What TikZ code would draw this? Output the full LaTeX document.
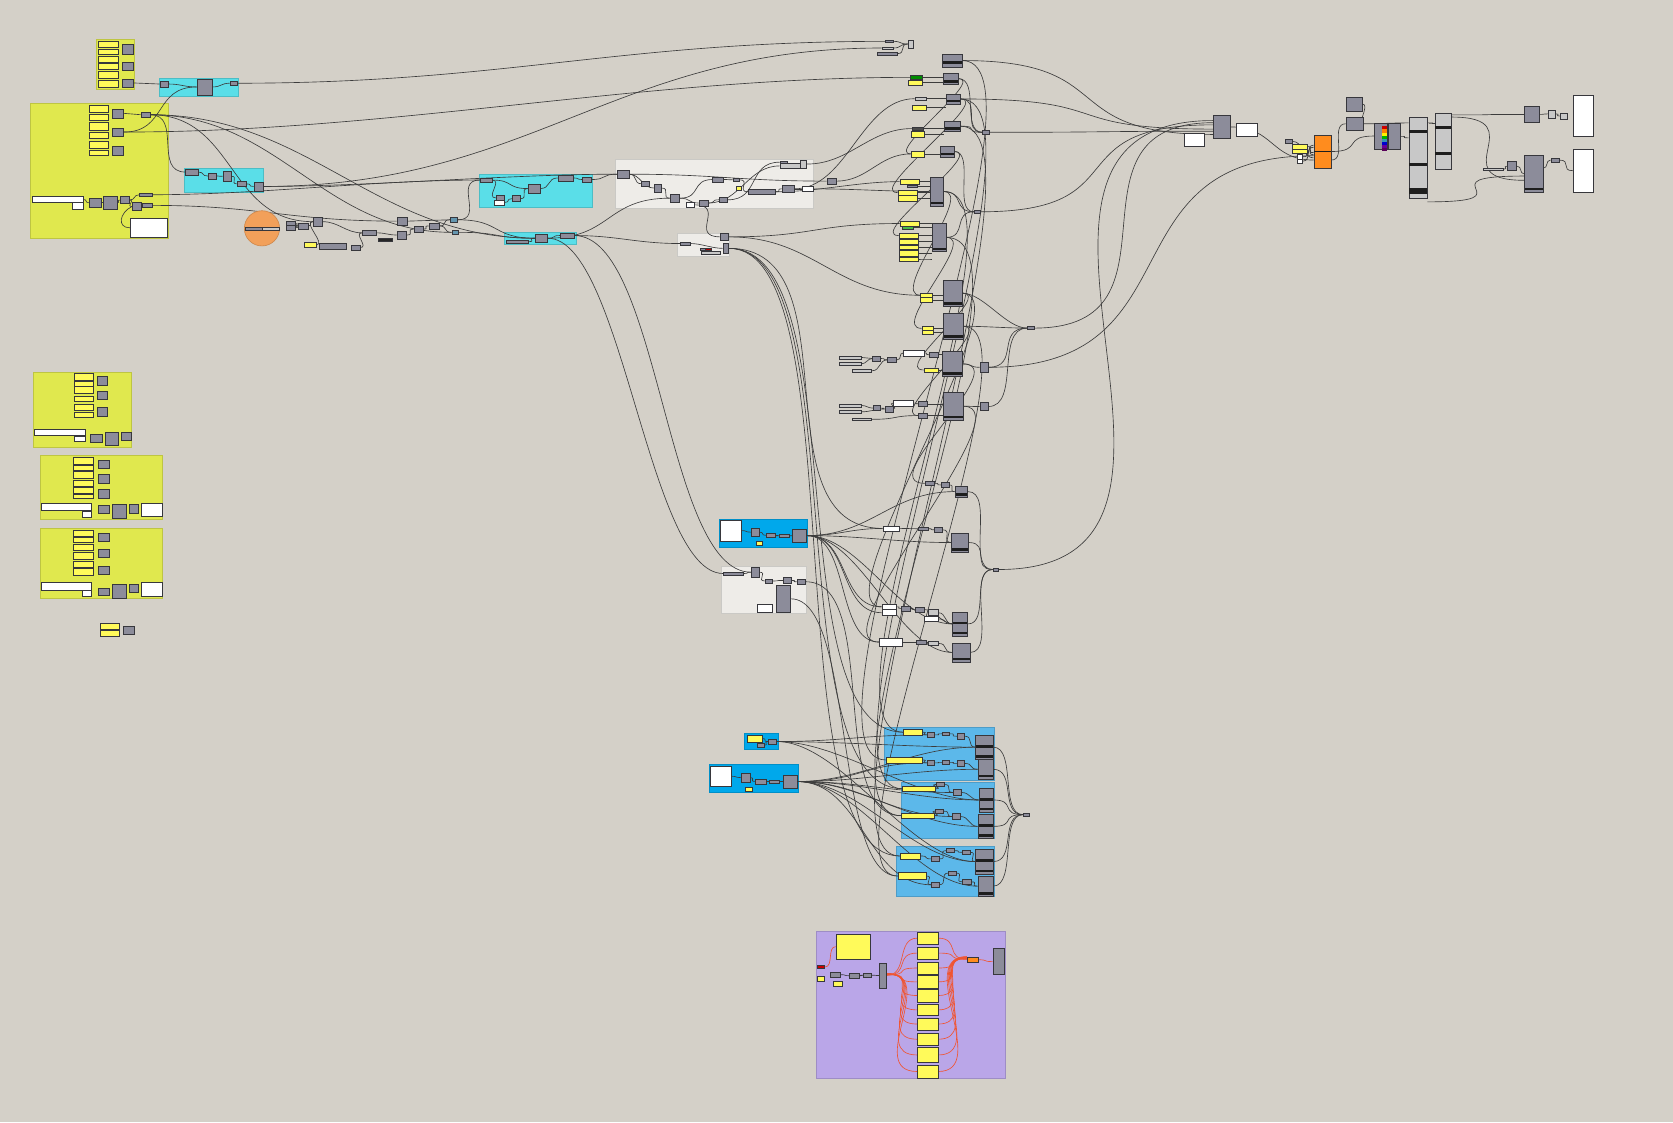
\documentclass[tikz,border=0pt]{standalone}
\usetikzlibrary{positioning}
\pgfdeclarelayer{grp}
\pgfdeclarelayer{wires}
\pgfsetlayers{grp,wires,main}
\definecolor{canvas}{RGB}{212,208,200}
\definecolor{cgrey}{RGB}{140,140,154}
\definecolor{cbord}{RGB}{55,55,60}
\definecolor{pyel}{RGB}{255,250,90}
\definecolor{gyel}{RGB}{224,232,78}
\definecolor{gcyan}{RGB}{90,222,232}
\definecolor{gwhite}{RGB}{238,236,232}
\definecolor{gblue}{RGB}{0,168,235}
\definecolor{glblue}{RGB}{92,184,234}
\definecolor{gpurp}{RGB}{186,166,232}
\definecolor{orb}{RGB}{242,160,90}
\definecolor{ocomp}{RGB}{255,140,30}
\definecolor{wcol}{RGB}{60,60,60}
\definecolor{rcol}{RGB}{240,85,50}
\definecolor{lgrey}{RGB}{200,200,200}
\definecolor{cband}{RGB}{30,30,30}
\definecolor{bgrey}{RGB}{100,150,175}
\tikzset{
	x=1pt,
	y=-1pt,
	sz/.style 2 args={minimum width=#1pt,minimum height=#2pt},
	comp/.style={rectangle,draw=cbord,fill=cgrey,line width=0.6pt,inner sep=0pt},
	panel/.style={comp,fill=pyel},
	wpanel/.style={comp,fill=white},
	lcomp/.style={comp,fill=lgrey},
	bcomp/.style={comp,fill=bgrey},
	banded/.style={path picture={\fill[cband] ([yshift=1.5pt]path picture bounding box.south west) rectangle ([yshift=4pt]path picture bounding box.south east);}},
	banded2/.style={path picture={\fill[cband] ([yshift=1.5pt]path picture bounding box.south west) rectangle ([yshift=4pt]path picture bounding box.south east);
		\fill[cband] ([yshift=-0.5pt]path picture bounding box.west) rectangle ([yshift=2pt]path picture bounding box.east);}},
	bandmid/.style={path picture={\fill[cband] ([yshift=-0.5pt]path picture bounding box.west) rectangle ([yshift=-3pt]path picture bounding box.east);}},
	grp/.style={fill=#1,draw=#1!85!black,line width=0.6pt},
	wire/.style={draw=wcol,line width=0.6pt,to path={.. controls +(#1,0) and +(-#1,0) .. (\tikztotarget)}},
	wire/.default=30,
	rwire/.style={wire=#1,draw=rcol},
	rwire/.default=20
}
\begin{document}
\begin{tikzpicture}
	\useasboundingbox (0,0) rectangle (1568,1052);
	\begin{pgfonlayer}{grp}
		\fill[canvas] (0,0) rectangle (1568,1052);
		\path[grp=gyel] (90.6,36.5) rectangle (125.9,83.4);
		\path[grp=gyel] (28,96.5) rectangle (157.5,223);
		\path[grp=gcyan] (149,73) rectangle (223,90);
		\path[grp=gcyan] (172.5,157.5) rectangle (246.5,180);
		\path[grp=gcyan] (449,163) rectangle (555,194);
		\path[grp=gcyan] (473,217.5) rectangle (540,229);
		\path[grp=gwhite] (577,149) rectangle (762,195);
		\path[grp=gwhite] (635,218.5) rectangle (684,240);
		\path[grp=gyel] (31,349) rectangle (123,419);
		\path[grp=gyel] (37.5,427) rectangle (152.5,486.5);
		\path[grp=gyel] (37.5,495) rectangle (152.5,561);
		\path[grp=gblue] (674,486.5) rectangle (757,513);
		\path[grp=gwhite] (676.5,530.5) rectangle (756,574.5);
		\path[grp=gblue] (698,687) rectangle (729,702);
		\path[grp=gblue] (664.5,716) rectangle (748,743);
		\path[grp=glblue] (828.5,682) rectangle (931.5,731);
		\path[grp=glblue] (844.5,733) rectangle (931.5,786);
		\path[grp=glblue] (840.5,793) rectangle (931.5,840.5);
		\path[grp=gpurp] (765,872.5) rectangle (942,1011);
	\end{pgfonlayer}

	% top left
	\foreach \y/\h [count=\i] in {41.25/5.5,48.5/5,55.25/5.5,62/6,69.75/6.5,78.25/6.5}
		\node[panel,sz={18.5}{\h}] (pa\i) at (101.25,\y) {};
	\node[comp,sz={10}{8.5}] (ca1) at (120,46.25) {};
	\node[comp,sz={10}{8}] (ca2) at (120,62) {};
	\node[comp,sz={10}{7.5}] (ca3) at (120,77.75) {};

	\foreach \y/\h [count=\i] in {101.75/6.5,110/6,118.5/7,127/6,135.5/7,143.5/5}
		\node[panel,sz={18}{\h}] (pb\i) at (92.5,\y) {};
	\node[comp,sz={11}{8.5}] (cb1) at (110.5,106.25) {};
	\node[comp,sz={11}{7.5}] (cb2) at (110.5,123.75) {};
	\node[comp,sz={11}{8}] (cb3) at (110.5,141.5) {};
	\node[comp,sz={8.5}{5}] (cb4) at (136.25,107.5) {};
	\node[wpanel,sz={48}{6}] (gwl) at (54,187) {};
	\node[wpanel,sz={10.5}{6}] (gws) at (72.75,193) {};
	\node[comp,sz={11}{8}] (cba) at (89,190) {};
	\node[comp,sz={13}{12}] (cbb) at (103,190) {};
	\node[comp,sz={8.5}{7}] (cb5) at (116.75,187.5) {};
	\node[comp,sz={8}{7}] (cb6) at (128,193.5) {};
	\node[comp,sz={12}{3}] (lc1) at (137,182.5) {};
	\node[comp,sz={9.5}{3}] (lc2) at (137.75,192.5) {};
	\node[wpanel,sz={34.5}{17}] (wb) at (139.25,213.5) {};

	\node[comp,sz={7.5}{5.5}] (g3a) at (153.75,78.75) {};
	\node[comp,sz={14.5}{15}] (g3b) at (191.75,81.5) {};
	\node[comp,sz={6.5}{4}] (g3c) at (218.75,78) {};

	\node[comp,sz={11.5}{5.5}] (g4a) at (179.75,161.25) {};
	\node[comp,sz={7.5}{6}] (g4b) at (198.75,165) {};
	\node[comp,sz={8}{8.5}] (g4c) at (213,165.25) {};
	\node[comp,sz={8.5}{5.5}] (g4d) at (226.25,172.25) {};
	\node[comp,sz={8.5}{8.5}] (g4e) at (242.25,174.75) {};

	% left stacks
	\foreach \y/\h [count=\i] in {353/6,359.5/5,365.5/6,373.75/5.5,382/6,388.5/5}
		\node[panel,sz={17.5}{\h}] (Ap\i) at (78.25,\y) {};
	\node[comp,sz={10}{8}] (Ac1) at (96,357) {};
	\node[comp,sz={10}{7}] (Ac2) at (96,370.5) {};
	\node[comp,sz={10}{8}] (Ac3) at (96,386) {};
	\node[wpanel,sz={48}{6}] (Awl) at (56,405) {};
	\node[wpanel,sz={10}{5.5}] (Aws) at (75,411.25) {};
	\node[comp,sz={10.5}{8}] (Ad1) at (90.25,411) {};
	\node[comp,sz={12}{12}] (Ad2) at (104.5,411) {};
	\node[comp,sz={9.5}{7.5}] (Ad3) at (118.25,408.75) {};

	\foreach \y/\h [count=\i] in {431.75/6.5,438.25/4.5,444.75/6.5,452.75/5.5,459.25/5.5,465.25/4.5}
		\node[panel,sz={18.5}{\h}] (Bp\i) at (77.75,\y) {};
	\node[comp,sz={10}{8}] (Bc1) at (97,435) {};
	\node[comp,sz={10}{8}] (Bc2) at (97,449) {};
	\node[comp,sz={10}{8}] (Bc3) at (97,463) {};
	\node[wpanel,sz={47.5}{6.5}] (Bwl) at (62.25,474.75) {};
	\node[wpanel,sz={9}{5.5}] (Bws) at (81.5,481.75) {};
	\node[comp,sz={10}{7}] (Bd1) at (97,477.5) {};
	\node[comp,sz={13}{13}] (Bd2) at (111.5,479) {};
	\node[comp,sz={8.5}{8.5}] (Bd3) at (125.25,476.75) {};
	\node[wpanel,sz={20}{12}] (Bwx) at (142,477.5) {};

	\foreach \y/\h [count=\i] in {500/6,505.75/4.5,513/6,521/6,529.25/5.5,536/6}
		\node[panel,sz={18.5}{\h}] (Cp\i) at (77.75,\y) {};
	\node[comp,sz={10}{7.5}] (Cc1) at (97,503.25) {};
	\node[comp,sz={10}{7.5}] (Cc2) at (97,518.25) {};
	\node[comp,sz={10}{7.5}] (Cc3) at (97,534.25) {};
	\node[wpanel,sz={47.5}{7}] (Cwl) at (62.25,549.5) {};
	\node[wpanel,sz={9}{5.5}] (Cws) at (81.5,556.25) {};
	\node[comp,sz={10}{7}] (Cd1) at (97,554.5) {};
	\node[comp,sz={13}{13}] (Cd2) at (111.5,554) {};
	\node[comp,sz={8.5}{7.5}] (Cd3) at (125.25,551.25) {};
	\node[wpanel,sz={20}{13}] (Cwx) at (142,552.5) {};

	\node[panel,sz={17.5}{5.5}] (Dp1) at (102.75,586.75) {};
	\node[panel,sz={17.5}{5.5}] (Dp2) at (102.75,593.25) {};
	\node[comp,sz={9.5}{7.5}] (Dc1) at (120.75,590.75) {};

	% orb and chain
	\node[circle,fill=orb,draw=orb!85!black,line width=0.6pt,minimum size=33pt,inner sep=0pt] (orb) at (245.5,214) {};
	\node[comp,sz={16}{3}] (orbL) at (237.5,214.5) {};
	\node[lcomp,sz={16}{3}] (orbR) at (253.5,214.5) {};
	\node[comp,sz={8.5}{4}] (k1a) at (272.25,209.5) {};
	\node[comp,sz={8.5}{4}] (k1b) at (272.25,213.5) {};
	\node[comp,sz={8.5}{5.5}] (k2) at (284.25,211.75) {};
	\node[comp,sz={8.5}{8.5}] (k3) at (297.75,207.75) {};
	\node[panel,sz={11}{4}] (ky) at (290.5,229.5) {};
	\node[comp,sz={26}{5.5}] (k4) at (312,230.75) {};
	\node[comp,sz={8.5}{5}] (k5) at (333.25,232) {};
	\node[comp,sz={13.5}{5.5}] (k6) at (346.25,218.25) {};
	\node[comp,fill=black!85,sz={13}{3}] (k7) at (361.5,224.5) {};
	\node[comp,sz={9}{7.5}] (k8) at (376.5,220.25) {};
	\node[comp,sz={10}{7.5}] (k9) at (377,207.25) {};
	\node[comp,sz={8.5}{5.5}] (k10) at (392.25,214.75) {};
	\node[comp,sz={9.5}{5.5}] (k11) at (406.75,211.75) {};
	\node[bcomp,sz={7}{4}] (kb1) at (425.5,206) {};
	\node[bcomp,sz={6.5}{4.5}] (kb2) at (426.75,217.75) {};

	\node[comp,sz={11}{3.5}] (g5a) at (455.5,168.75) {};
	\node[comp,sz={7.5}{4}] (g5b) at (468.75,185.5) {};
	\node[wpanel,sz={9.5}{4.5}] (g5w) at (467.75,189.75) {};
	\node[comp,sz={7.5}{5.5}] (g5d) at (483.75,186.25) {};
	\node[comp,sz={11}{8.5}] (g5e) at (500.5,176.75) {};
	\node[comp,sz={14}{5.5}] (g5f) at (530,166.75) {};
	\node[comp,sz={8}{4.5}] (g5g) at (550,168.25) {};

	\node[comp,sz={20}{3}] (g6a) at (485,226.5) {};
	\node[comp,sz={11.5}{7.5}] (g6b) at (507.25,223.25) {};
	\node[comp,sz={13}{4.5}] (g6c) at (531.5,220.75) {};

	\node[comp,sz={11}{7.5}] (w1) at (584,163.25) {};
	\node[comp,sz={7.5}{5.5}] (w2) at (605.25,172.25) {};
	\node[comp,sz={7}{7.5}] (w3) at (616.5,176.25) {};
	\node[comp,sz={9}{7.5}] (w4) at (632.5,185.75) {};
	\node[wpanel,sz={7.5}{4}] (ww) at (646.75,192) {};
	\node[comp,sz={8.5}{5.5}] (w5) at (659.25,190.25) {};
	\node[comp,sz={8}{5.5}] (w6) at (678,187.25) {};
	\node[comp,sz={10}{4.5}] (w7) at (673,168.25) {};
	\node[comp,sz={6}{3}] (w8) at (690,168.5) {};
	\node[panel,sz={5}{3}] (wy) at (692.5,176.5) {};
	\node[comp,sz={26}{5.5}] (w9) at (714,179.75) {};
	\node[comp,sz={11}{6}] (w10) at (738.5,177) {};
	\node[wpanel,sz={10.5}{4}] (wwh) at (756.75,177) {};
	\node[comp,sz={6.5}{2}] (wt1) at (734.25,152) {};
	\node[lcomp,sz={19}{4}] (wt2) at (740.5,155.5) {};
	\node[lcomp,sz={5.5}{7.5}] (wt3) at (753.25,153.75) {};
	\node[comp,sz={8.5}{5.5}] (w11) at (779.25,169.75) {};

	\node[comp,sz={9.5}{2.5}] (v1) at (642.25,228.25) {};
	\node[comp,sz={7.5}{6}] (v2) at (679.25,222) {};
	\node[comp,sz={5.5}{8.5}] (v3) at (680.25,232.75) {};
	\node[comp,sz={5}{2}] (vg) at (659,233.5) {};
	\node[comp,fill=red!70!black,sz={5.5}{2}] (vr) at (664.25,233.5) {};
	\node[lcomp,sz={18.5}{2}] (vl) at (666.25,237) {};

	% column
	\node[comp,sz={7}{2.5}] (t1) at (833.5,38.75) {};
	\node[lcomp,sz={10.5}{2}] (t2) at (831.75,45) {};
	\node[comp,sz={19}{2.5}] (t3) at (831.5,50.25) {};
	\node[lcomp,sz={5}{7.5}] (t4) at (853.5,41.25) {};
	\node[comp,bandmid,sz={18.5}{12.5}] (m1) at (892.25,56.75) {};
	\node[comp,banded,sz={14}{10.5}] (m2) at (891,73.75) {};
	\node[comp,fill=green!55!black,sz={11}{3}] (m2a) at (858.5,72.5) {};
	\node[panel,sz={13}{5}] (m2y) at (857.5,77.5) {};
	\node[comp,banded,sz={13.5}{9.5}] (m3) at (893.25,92.75) {};
	\node[lcomp,sz={10.5}{3}] (m3a) at (862.75,92.5) {};
	\node[panel,sz={13}{4.5}] (m3y) at (861.5,100.75) {};
	\node[comp,banded,sz={14.5}{9.5}] (m4) at (892.75,118.25) {};
	\node[comp,fill=black!70,sz={10}{3}] (m4a) at (860,120.5) {};
	\node[panel,sz={12}{5}] (m4y) at (860,126) {};
	\node[comp,banded,sz={13}{10}] (m5) at (887.5,142) {};
	\node[panel,sz={12}{5.5}] (m5y) at (860,144.25) {};
	\node[comp,sz={6}{3}] (sm1) at (924,124) {};
	\node[comp,banded,sz={12.5}{27}] (m6) at (877.75,179.5) {};
	\node[panel,sz={18.5}{4.5}] (m6y1) at (852.75,170.25) {};
	\node[comp,sz={10}{2}] (m6s) at (855,174.5) {};
	\node[panel,sz={18.5}{5}] (m6y2) at (850.75,180.5) {};
	\node[panel,sz={18.5}{5}] (m6y3) at (850.75,186) {};
	\node[comp,sz={6}{3}] (sm2) at (916,198.5) {};
	\node[comp,banded,sz={13}{27}] (m7) at (880,222.5) {};
	\node[panel,sz={18.5}{5}] (m7y1) at (852.75,209.5) {};
	\node[comp,fill=green!45!gray,sz={10}{2}] (m7s) at (851,213.5) {};
	\foreach \y/\h [count=\i from 2] in {220.75/4.5,226.5/5,231.75/4.5,237.5/5,242.75/3.5}
		\node[panel,sz={18.5}{\h}] (m7y\i) at (851.75,\y) {};
	\node[comp,banded,sz={17.5}{24.5}] (m8) at (892.75,274.75) {};
	\node[panel,sz={11}{4.5}] (m8y1) at (868.5,276.75) {};
	\node[panel,sz={11}{4}] (m8y2) at (868.5,281) {};
	\node[comp,banded,sz={18.5}{24.5}] (m9) at (893.25,305.75) {};
	\node[panel,sz={11}{4.5}] (m9y1) at (869.5,307.75) {};
	\node[panel,sz={11}{3}] (m9y2) at (869.5,311.5) {};
	\node[comp,sz={6}{3}] (sm3) at (966,307.5) {};
	\node[comp,banded,sz={18.5}{24}] (m10) at (892.25,341) {};
	\node[wpanel,sz={19}{5.5}] (m10w) at (856.5,330.75) {};
	\node[comp,sz={8}{5}] (m10a) at (875,332.5) {};
	\node[panel,sz={13}{3.5}] (m10y) at (872.5,346.75) {};
	\node[comp,sz={7.5}{8.5}] (m10b) at (922.25,344.25) {};
	\node[comp,sz={8.5}{5.5}] (m10c) at (836.25,337.25) {};
	\node[comp,sz={7.5}{5}] (m10d) at (821.75,336) {};
	\node[lcomp,sz={20}{3}] (lA1) at (797,335) {};
	\node[lcomp,sz={20}{3}] (lA2) at (797,341) {};
	\node[lcomp,sz={18}{2.5}] (lA3) at (808,347.5) {};
	\node[comp,banded,sz={18.5}{25.5}] (m11) at (893.25,380.75) {};
	\node[wpanel,sz={19}{5.5}] (m11w) at (846.5,377.75) {};
	\node[comp,sz={8}{5}] (m11a) at (865,378.5) {};
	\node[comp,sz={8}{5}] (m11b) at (865,389.5) {};
	\node[comp,sz={7.5}{5.5}] (m11c) at (833.25,383.25) {};
	\node[comp,sz={7}{5}] (m11d) at (822,382.5) {};
	\node[comp,sz={7.5}{8}] (m11e) at (922.25,381) {};
	\node[lcomp,sz={20}{3}] (lB1) at (797,380) {};
	\node[lcomp,sz={20}{3}] (lB2) at (797,386) {};
	\node[lcomp,sz={18}{2.5}] (lB3) at (808,393) {};

	% middle
	\node[wpanel,sz={19}{19.5}] (bw) at (685,497.25) {};
	\node[comp,sz={7.5}{7.5}] (bl1) at (707.75,498.75) {};
	\node[comp,sz={9}{4.5}] (bl2) at (722.5,501.75) {};
	\node[comp,sz={9.5}{3.5}] (bl3) at (734.75,502.25) {};
	\node[comp,sz={13}{12}] (bl4) at (749.5,502) {};
	\node[panel,sz={5.5}{4.5}] (bly) at (711.25,509.25) {};

	\node[comp,sz={19}{3}] (n1) at (687.5,537.5) {};
	\node[comp,sz={7.5}{9.5}] (n2) at (707.75,536.25) {};
	\node[comp,sz={6.5}{4}] (n3) at (720.25,544.5) {};
	\node[comp,sz={8}{5}] (n4) at (738,544) {};
	\node[comp,sz={8}{5.5}] (n5) at (751,545.25) {};
	\node[comp,sz={13}{24.5}] (n6) at (734.5,561.25) {};
	\node[wpanel,sz={14}{7.5}] (nw) at (716.5,569.75) {};

	\node[comp,sz={9}{3}] (r1) at (871.5,453) {};
	\node[comp,sz={7.5}{5}] (r2) at (885.75,454.5) {};
	\node[comp,banded,sz={12}{10.5}] (r3) at (901,460.75) {};
	\node[wpanel,sz={15}{4.5}] (r4w) at (835,495.25) {};
	\node[comp,sz={9.5}{3}] (r5) at (865.25,495.5) {};
	\node[comp,sz={7.5}{5}] (r6) at (879.25,496.5) {};
	\node[comp,banded,sz={16}{18}] (r7) at (900,508.5) {};
	\node[comp,sz={5.5}{2.5}] (sm4) at (933.25,533.75) {};
	\node[wpanel,sz={13.5}{5.5}] (r8w1) at (833.25,568.75) {};
	\node[wpanel,sz={13.5}{5.5}] (r8w2) at (833.25,574.25) {};
	\node[comp,sz={8}{4.5}] (r9) at (849,570.25) {};
	\node[comp,sz={8.5}{4.5}] (r10) at (861.75,571.25) {};
	\node[lcomp,sz={8.5}{5.5}] (r11) at (874.75,574.25) {};
	\node[wpanel,sz={13}{4}] (r11w) at (872.5,580) {};
	\node[comp,banded2,sz={14}{22.5}] (r12) at (900,584.75) {};
	\node[wpanel,sz={22}{7.5}] (r13w) at (835,601.75) {};
	\node[comp,sz={9.5}{3.5}] (r14) at (863.25,601.75) {};
	\node[lcomp,sz={8.5}{4}] (r15) at (874.75,603) {};
	\node[comp,banded,sz={16}{18}] (r16) at (901,611.5) {};

	% lower
	\node[panel,sz={14}{6.5}] (sby) at (707,692.25) {};
	\node[comp,sz={6.5}{3}] (sb1) at (712.75,698.5) {};
	\node[comp,sz={8}{5}] (sb2) at (724,695) {};
	\node[wpanel,sz={19.5}{19}] (qw) at (675.25,727.5) {};
	\node[comp,sz={8.5}{8.5}] (q1) at (698.75,728.75) {};
	\node[comp,sz={10.5}{5}] (q2) at (712.75,732.5) {};
	\node[comp,sz={9}{3}] (q3) at (725.5,732.5) {};
	\node[panel,sz={6}{4.5}] (qy) at (702,739.75) {};
	\node[comp,sz={13}{12}] (q4) at (740.5,732.5) {};

	\node[panel,sz={17}{5.5}] (ay1) at (855.5,686.25) {};
	\node[panel,sz={33.5}{5.5}] (ay2) at (847.25,712.25) {};
	\node[comp,sz={7}{5.5}] (a1) at (872.5,688.75) {};
	\node[comp,sz={7}{2.5}] (a2) at (886.5,687.75) {};
	\node[comp,sz={7}{5}] (a3) at (900.5,690) {};
	\node[comp,sz={7}{5}] (a4) at (872.5,715) {};
	\node[comp,sz={7}{4}] (a5) at (886.5,714.5) {};
	\node[comp,sz={7}{5}] (a6) at (900.5,715.5) {};
	\node[comp,banded2,sz={16}{22.5}] (aB1) at (922.5,700.25) {};
	\node[comp,banded,sz={14}{18}] (aB2) at (923.5,721) {};

	\node[panel,sz={31}{5.5}] (hy1) at (861.5,739.25) {};
	\node[panel,sz={31}{5}] (hy2) at (860.5,764.5) {};
	\node[comp,sz={7.5}{3.5}] (h1) at (881.25,735.25) {};
	\node[comp,sz={7.5}{5.5}] (h2) at (897.25,742.75) {};
	\node[comp,sz={7}{3.5}] (h3) at (880.5,760.25) {};
	\node[comp,sz={7}{5.5}] (h4) at (896.5,765.25) {};
	\node[comp,banded2,sz={13}{22.5}] (hB1) at (924,749.75) {};
	\node[comp,banded2,sz={14}{23}] (hB2) at (923.5,774.5) {};

	\node[panel,sz={19.5}{5.5}] (ey1) at (853.25,802.25) {};
	\node[panel,sz={26.5}{6}] (ey2) at (854.75,821) {};
	\node[comp,sz={7}{3.5}] (e1) at (890.5,797.25) {};
	\node[comp,sz={7}{3.5}] (e2) at (905.5,798.75) {};
	\node[comp,sz={7.5}{5}] (e3) at (876.75,805) {};
	\node[comp,sz={7}{3.5}] (e4) at (892.5,818.25) {};
	\node[comp,sz={8}{5}] (e5) at (906,826.5) {};
	\node[comp,sz={7}{5.5}] (e6) at (876.5,829.25) {};
	\node[comp,banded2,sz={16}{23}] (eB1) at (922.5,807.5) {};
	\node[comp,banded,sz={14}{19}] (eB2) at (923.5,830.5) {};
	\node[comp,sz={6}{3}] (sm5) at (962,763.5) {};

	% purple
	\node[panel,sz={32.5}{23.5}] (py) at (799.75,887.25) {};
	\node[comp,fill=red!80!black,sz={7}{3.5}] (pr) at (769.5,906.25) {};
	\node[panel,sz={7}{5}] (pys) at (769.5,917.5) {};
	\node[comp,sz={10}{5}] (p1) at (783,913.5) {};
	\node[panel,sz={8}{4.5}] (pys2) at (785,921.75) {};
	\node[comp,sz={9}{5}] (p2) at (800.5,914.5) {};
	\node[comp,sz={8}{4}] (p3) at (813,914) {};
	\node[comp,sz={7}{23.5}] (pt) at (827.5,914.25) {};
	\foreach \y/\h [count=\i] in {879.25/11.5,893.25/11.5,907.25/11.5,920.25/11.5,933/12,946.5/11,959.75/11.5,974/12,988.75/13.5,1004.25/12.5}
		\node[panel,sz={19}{\h}] (ys\i) at (869.5,\y) {};
	\node[comp,fill=ocomp,sz={10}{5}] (po) at (911.5,899.5) {};
	\node[comp,sz={10.5}{24.5}] (pc) at (935.75,901.25) {};

	% right
	\node[comp,sz={16.5}{21}] (R1) at (1145.25,119) {};
	\node[wpanel,sz={19.5}{12}] (R1w) at (1168.25,121.5) {};
	\node[wpanel,sz={18.5}{12}] (R1w2) at (1119.25,131) {};
	\node[comp,sz={6}{3}] (R2) at (1208,132.5) {};
	\node[panel,sz={14}{4.5}] (R2y1) at (1218,137.25) {};
	\node[panel,sz={14}{4}] (R2y2) at (1218,141.5) {};
	\node[wpanel,sz={5.5}{4}] (R2w1) at (1218.25,147) {};
	\node[wpanel,sz={5.5}{4}] (R2w2) at (1218.25,151) {};
	\node[comp,fill=ocomp,sz={16}{31}] (RO) at (1239.5,142) {};
	\draw[cband,line width=1.2pt] (RO.west) -- (RO.east);
	\node[comp,sz={15}{13}] (R3) at (1269,97.5) {};
	\node[comp,sz={16}{13}] (R4) at (1269.5,116) {};
	\node[comp,sz={12}{24}] (Rsw) at (1294,127.5) {};
	\foreach \c [count=\i] in {red!80!black,orange,yellow,green!70!black,cyan!70!black,blue!80!black,blue!60!red,violet!70!black}
		\fill[\c] (1295,{115.5+2.9*\i}) rectangle (1299.5,{118.4+2.9*\i});
	\node[comp,sz={11}{23.5}] (R5) at (1306.5,127.75) {};
	\node[lcomp,sz={17}{76}] (RT1) at (1329,147.5) {};
	\fill[cband] (1320.5,122) rectangle (1337.5,124.5);
	\fill[cband] (1320.5,153) rectangle (1337.5,155.5);
	\fill[cband] (1320.5,176) rectangle (1337.5,182);
	\node[lcomp,sz={15}{53}] (RT2) at (1352.5,132.5) {};
	\fill[cband] (1345,118) rectangle (1360,120.5);
	\fill[cband] (1345,142.5) rectangle (1360,145);
	\node[comp,sz={13.5}{14.5}] (R6) at (1435.75,107.25) {};
	\node[lcomp,sz={7}{7.5}] (R7) at (1454.5,106.75) {};
	\node[lcomp,sz={7}{5.5}] (R8) at (1465.5,108.75) {};
	\node[wpanel,sz={18.5}{38.5}] (RW1) at (1483.75,108.25) {};
	\node[comp,banded,sz={17}{34}] (R9) at (1437.5,163) {};
	\node[comp,sz={7.5}{4}] (R10) at (1457.25,150) {};
	\node[wpanel,sz={18.5}{40}] (RW2) at (1483.75,160) {};
	\node[comp,sz={8.5}{8.5}] (R11) at (1417.25,155.75) {};
	\node[lcomp,sz={19}{2}] (R12) at (1399.5,158.5) {};

	\begin{pgfonlayer}{wires}
		% top left
		\draw[wire=12] (ca3.east) to (g3a.west);
		\draw[wire=12] (g3a.east) to (g3b.west);
		\draw[wire=8] (g3b.east) to (g3c.west);
		\draw[wire=250] (g3c.east) to (t1.west);
		\draw[wire=40] (cb2.east) to (g3b.west);
		\draw[wire=250] (cb2.east) to (m2a.west);
		\draw[wire=8] (cb1.east) to (cb4.west);
		\draw[wire=30] (cb4.east) to (g4a.west);
		\draw[wire=80] (cb4.east) to (k3.west);
		\draw[wire=120] (cb4.east) to (kb2.west);
		\draw[wire=150] (cb4.east) to (g6b.west);
		\draw[wire=6] (g4a.east) to (g4b.west);
		\draw[wire=6] (g4b.east) to (g4c.west);
		\draw[wire=6] (g4c.east) to (g4d.west);
		\draw[wire=6] (g4d.east) to (g4e.west);
		\draw[wire=100] (g4e.east) to (w1.west);
		\draw[wire=250] (g4e.east) to (t2.west);
		\draw[wire=4] (gwl.east) to (cba.west);
		\draw[wire=4] (cba.east) to (cbb.west);
		\draw[wire=4] (cbb.east) to (cb5.west);
		\draw[wire=6] (cb5.east) to (cb6.west);
		\draw[wire=6] (cb5.east) to (lc1.west);
		\draw[wire=6] (cb6.east) to (lc2.west);
		\draw[wire] (cb6.west) .. controls +(-12,6) and +(-12,0) .. (wb.west);
		\draw[wire=100] (lc1.east) to (g5a.west);
		\draw[wire=100] (lc2.east) to (k9.west);
		% chain
		\draw[wire=5] (k1a.east) to (k2.west);
		\draw[wire=5] (k1b.east) to (k2.west);
		\draw[wire=5] (k2.east) to (k3.west);
		\draw[wire=10] (ky.east) to (k3.west);
		\draw[wire=15] (k3.east) to (k6.west);
		\draw[wire=8] (k5.east) to (k6.west);
		\draw[wire=8] (k6.east) to (k8.west);
		\draw[wire=8] (k8.east) to (k10.west);
		\draw[wire=20] (k9.east) to (kb1.west);
		\draw[wire=6] (k10.east) to (k11.west);
		\draw[wire=8] (k11.east) to (kb1.west);
		\draw[wire=8] (k11.east) to (kb2.west);
		\draw[wire=25] (kb1.east) to (g5a.west);
		\draw[wire=40] (kb1.east) to (g6b.west);
		\draw[wire=40] (kb2.east) to (g6b.west);
		\draw[wire=10] (g5a.east) to (g5b.west);
		\draw[wire=20] (g5a.east) to (g5e.west);
		\draw[wire=6] (g5w.east) to (g5d.west);
		\draw[wire=8] (g5d.east) to (g5e.west);
		\draw[wire=10] (g5e.east) to (g5f.west);
		\draw[wire=6] (g5f.east) to (g5g.west);
		\draw[wire=15] (g5g.east) to (w1.west);
		\draw[wire=8] (g6a.east) to (g6b.west);
		\draw[wire=8] (g6b.east) to (g6c.west);
		\draw[wire=40] (g6c.east) to (v1.west);
		\draw[wire=60] (g6b.east) to (w4.west);
		\draw[wire=70] (g6b.east) to (n1.west);
		\draw[wire=80] (g6c.east) to (n2.west);
		% white group
		\draw[wire=8] (w1.east) to (w2.west);
		\draw[wire=10] (w1.east) to (w3.west);
		\draw[wire=8] (w3.east) to (w4.west);
		\draw[wire=10] (w4.east) to (w5.west);
		\draw[wire=20] (w4.east) to (w7.west);
		\draw[wire=8] (w5.east) to (w6.west);
		\draw[wire=6] (w7.east) to (w8.west);
		\draw[wire=10] (w8.east) to (w9.west);
		\draw[wire=6] (w9.east) to (w10.west);
		\draw[wire=5] (w10.east) to (wwh.west);
		\draw[wire=80] (w1.east) to (w11.west);
		\draw[wire=30] (w6.east) to (wt1.west);
		\draw[wire=30] (w5.east) to (wt2.west);
		\draw[wire=30] (ww.east) to (v2.west);
		\draw[wire=40] (wwh.east) to (m6.west);
		\draw[wire=30] (w11.east) to (m5y.west);
		\draw[wire=50] (w10.east) to (m3a.west);
		\draw[wire=40] (wt3.east) to (m4a.west);
		\draw[wire=40] (w9.east) to (m6y1.west);
		\draw[wire=10] (v1.east) to (v3.west);
		\draw[wire=80] (v2.east) to (m7y1.west);
		\draw[wire=80] (v2.east) to (m8y1.west);
		\draw[wire=120] (v3.east) to (r4w.west);
		\draw[wire=120] (v3.east) to (ay1.west);
		\draw[wire=120] (v3.east) to (hy1.west);
		\draw[wire=120] (v3.east) to (ey1.west);
		% column
		\draw[wire=8] (t1.east) to (t4.west);
		\draw[wire=8] (t2.east) to (t4.west);
		\draw[wire=8] (t3.east) to (t4.west);
		\foreach \s/\t in {m2a/m2,m2y/m2,m3a/m3,m3y/m3,m4a/m4,m4y/m4,m5y/m5,m6y1/m6,m6s/m6,m6y2/m6,m6y3/m6,m7y1/m7,m7s/m7,m7y2/m7,m7y3/m7,m7y4/m7,m7y5/m7,m7y6/m7,m8y1/m8,m8y2/m8,m9y1/m9,m9y2/m9,m10a/m10,m10y/m10,m11a/m11,m11b/m11}
			\draw[wire=8] (\s.east) to (\t.west |- \s);
		\draw[wire=5] (m10w.east) to (m10a.west);
		\draw[wire=5] (m10d.east) to (m10c.west);
		\draw[wire=5] (m10c.east) to (m10w.west);
		\draw[wire=5] (m11d.east) to (m11c.west);
		\draw[wire=5] (m11c.east) to (m11w.west);
		\draw[wire=5] (m11w.east) to (m11a.west);
		\draw[wire=5] (lA1.east) to (m10d.west);
		\draw[wire=5] (lA2.east) to (m10d.west);
		\draw[wire=8] (lA3.east) to (m10c.west);
		\draw[wire=5] (lB1.east) to (m11d.west);
		\draw[wire=8] (lB2.east) to (m11c.west);
		\draw[wire=25] (lB3.east) to (m11b.west);
		\draw[wire=10] (m10.east) to (m10b.west);
		\draw[wire=10] (m11.east) to (m11e.west);
		\draw[wire=30] (m11e.east) to (sm3.west);
		\draw[wire=30] (m10b.east) to (sm3.west);
		\draw[wire=20] (m2.east) to (sm1.west);
		\draw[wire=20] (m3.east) to (sm1.west);
		\draw[wire=20] (m4.east) to (sm1.west);
		\draw[wire=20] (m5.east) to (sm2.west);
		\draw[wire=20] (m6.east) to (sm2.west);
		\draw[wire=20] (m7.east) to (sm2.west);
		\draw[wire=20] (m8.east) to (sm3.west);
		\draw[wire=20] (m9.east) to (sm3.west);
		\draw[wire=120] (sm1.east) to ([yshift=-4pt]R1.west);
		\draw[wire=150] (sm2.east) to ([yshift=2pt]R1.west);
		\draw[wire=150] (sm3.east) to ([yshift=4pt]R1.west);
		\draw[wire=150] (m1.east) to ([yshift=-7pt]R1.west);
		\draw[wire=150] (m3.east) to ([yshift=-2pt]R1.west);
		\draw[wire=30] (m6.east) to (m8y1.west);
		\draw[wire=30] (m7.east) to (m9y1.west);
		\draw[wire=30] (m8.east) to (m10y.west);
		\draw[wire=30] (m9.east) to (m11b.west);
		\draw[wire=30] (m5.east) to (m7y2.west);
		\draw[wire=30] (m3.east) to (m6y2.west);
		\draw[wire=25] (m2.east) to (m5y.west);
		\draw[wire=100] (m1.east) to (ay2.west);
		\draw[wire=100] (m3.east) to (hy1.west);
		\draw[wire=100] (m4.east) to (ey1.west);
		\draw[wire=90] (m6.east) to (ay1.west);
		\draw[wire=100] (m7.east) to (hy2.west);
		\draw[wire=80] (m9.east) to (ey2.west);
		\draw[wire=60] (m8.east) to (r8w1.west);
		\draw[wire=60] (m11.east) to (r13w.west);
		\draw[wire=50] (m10.east) to (r1.west);
		% middle
		\draw[wire=6] (bw.east) to (bl1.west);
		\draw[wire=5] (bl1.east) to (bl2.west);
		\draw[wire=4] (bl2.east) to (bl3.west);
		\draw[wire=4] (bl3.east) to (bl4.west);
		\draw[wire=60] (bl4.east) to (r3.west);
		\draw[wire=30] (bl4.east) to (r4w.west);
		\draw[wire=50] (bl4.east) to (r7.west);
		\draw[wire=40] (bl4.east) to (r8w1.west);
		\draw[wire=40] (bl4.east) to (r8w2.west);
		\draw[wire=50] (bl4.east) to (r12.west);
		\draw[wire=40] (bl4.east) to (r13w.west);
		\draw[wire=50] (bl4.east) to (r16.west);
		\draw[wire=6] (r1.east) to (r2.west);
		\draw[wire=6] (r2.east) to (r3.west);
		\draw[wire=10] (r4w.east) to (r5.west);
		\draw[wire=6] (r5.east) to (r6.west);
		\draw[wire=10] (r6.east) to (r7.west);
		\draw[wire=6] (r8w1.east) to (r9.west);
		\draw[wire=6] (r9.east) to (r10.west);
		\draw[wire=10] (r10.east) to (r12.west);
		\draw[wire=8] (r11.east) to (r12.west);
		\draw[wire=8] (r11w.east) to (r12.west);
		\draw[wire=10] (r13w.east) to (r14.west);
		\draw[wire=6] (r14.east) to (r15.west);
		\draw[wire=10] (r15.east) to (r16.west);
		\draw[wire=25] (r3.east) to (sm4.west);
		\draw[wire=20] (r7.east) to (sm4.west);
		\draw[wire=20] (r12.east) to (sm4.west);
		\draw[wire=25] (r16.east) to (sm4.west);
		\draw[wire=250] (sm4.east) to ([yshift=6pt]R1.west);
		\draw[wire=6] (n1.east) to (n2.west);
		\draw[wire=8] (n2.east) to (n3.west);
		\draw[wire=8] (n3.east) to (n4.west);
		\draw[wire=6] (n4.east) to (n5.west);
		\draw[wire=60] (n6.east) to (ey2.west);
		\draw[wire=70] (n5.east) to (hy2.west);
		% lower
		\draw[wire=6] (qw.east) to (q1.west);
		\draw[wire=5] (q1.east) to (q2.west);
		\draw[wire=4] (q2.east) to (q3.west);
		\draw[wire=5] (q3.east) to (q4.west);
		\draw[wire=6] (sby.east) to (sb2.west);
		\draw[wire=5] (sb1.east) to (sb2.west);
		\foreach \t in {aB1,aB2,hB1,hB2,eB1,eB2,a4,e6,h2,h4}
			\draw[wire=60] (q4.east) to (\t.west);
		\foreach \t in {a1,aB1,hB1,eB1}
			\draw[wire=60] (sb2.east) to (\t.west);
		\foreach \s/\t in {ay1/a1,a1/a2,a2/a3,a3/aB1,ay2/a4,a4/a5,a5/a6,a6/aB2,hy1/h1,h1/h2,h2/hB1,hy2/h3,h3/h4,h4/hB2,ey1/e3,e3/e1,e1/e2,e2/eB1,ey2/e6,e6/e4,e4/e5,e5/eB2}
			\draw[wire=8] (\s.east) to (\t.west);
		\foreach \s in {aB1,aB2,hB1,hB2,eB1,eB2}
			\draw[wire=22] (\s.east) to (sm5.west);
		% purple
		\draw[rwire=8] (pr.east) to (py.west);
		\draw[wire=5] (p1.east) to (p2.west);
		\draw[wire=5] (p2.east) to (p3.west);
		\draw[wire=5] (p3.east) to (pt.west);
		\foreach \i/\d in {1/20,2/22,3/24,4/26,5/30,6/34,7/38,8/42,9/46,10/50} {
			\draw[rwire=\d] ([yshift=0.2*\i pt]pt.east) to (ys\i.west);
			\draw[rwire=\d] (ys\i.east) to ([yshift=0.3*\i pt]po.west);
		}
		\draw[rwire=10] (po.east) to (pc.west);
		% right
		\draw[wire=40] (R1.east) to ([yshift=-8pt]RO.west);
		\draw[wire=10] (R2.east) to ([yshift=-6pt]RO.west);
		\draw[wire=8] (R2y1.east) to ([yshift=-3pt]RO.west);
		\draw[wire=8] (R2y2.east) to ([yshift=-1pt]RO.west);
		\draw[wire=8] (R2w1.east) to ([yshift=4pt]RO.west);
		\draw[wire=8] (R2w2.east) to ([yshift=6pt]RO.west);
		\draw[wire=200] (m10b.east) to ([yshift=-4pt]RO.west);
		\draw[wire=15] ([yshift=-8pt]RO.east) to (R4.west);
		\draw[wire=8] (R3.east) to ([yshift=-3pt]R4.east);
		\draw[wire=30] (RO.east) to (Rsw.west);
		\draw[wire=20] (R4.east) to ([yshift=-6pt]RT1.north west);
		\draw[wire=10] (R5.east) to ([yshift=-20pt]RT1.north west);
		\draw[wire=10] ([yshift=-6pt]RT1.north east) to ([yshift=-10pt]RT2.north west);
		\draw[wire=60] ([yshift=-2pt]RT2.north east) to (R6.west);
		\draw[wire=80] ([yshift=-4pt]RT2.north east) to ([yshift=-6pt]R9.west);
		\draw[wire=100] ([yshift=-80pt]RT1.north east) to ([yshift=-2pt]R9.west);
		\draw[wire=5] (R6.east) to (R7.west);
		\draw[wire=5] (R7.east) to (R8.west);
		\draw[wire=5] ([yshift=-12pt]R9.north east) to (R10.west);
		\draw[wire=12] (R10.east) to (RW2.west);
		\draw[wire=5] (R12.east) to (R11.west);
		\draw[wire=5] (R11.east) to (R9.west);
	\end{pgfonlayer}
\end{tikzpicture}
\end{document}
